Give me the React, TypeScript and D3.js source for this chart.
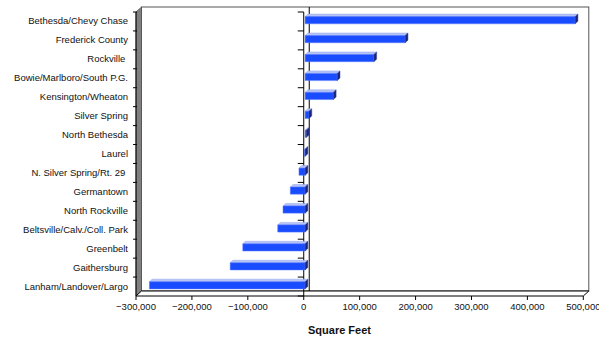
import React from "react";
import * as d3 from "d3";

const categories = [
  "Bethesda/Chevy Chase",
  "Frederick County",
  "Rockville ",
  "Bowie/Marlboro/South P.G.",
  "Kensington/Wheaton",
  "Silver Spring",
  "North Bethesda",
  "Laurel",
  "N. Silver Spring/Rt. 29 ",
  "Germantown",
  "North Rockville",
  "Beltsville/Calv./Coll. Park",
  "Greenbelt",
  "Gaithersburg",
  "Lanham/Landover/Largo",
];

const values = [
  483000, 179000, 123000, 57500, 50500, 7000, 2000, -1000, -11000, -26500,
  -39500, -49000, -111500, -134000, -278500,
];

const xTicks = [-300000, -200000, -100000, 0, 100000, 200000, 300000, 400000, 500000];

const W = 599;
const H = 339;

// 3D projection: offset of the back plane relative to the front plane
const DX = 5.5;
const DY = 5;
const D0 = 0.25;
const D1 = 0.75;

export default function App() {
  const x = d3.scaleLinear().domain([-300000, 500000]).range([136, 583.3]);
  const y = d3.scaleBand<string>().domain(categories).range([12, 296]).padding(0);
  const fmt = d3.format(",");

  const px = (v: number, d: number) => x(v) + d * DX;
  const py = (yy: number, d: number) => yy - d * DY;

  const left = x(-300000);
  const right = x(500000);
  const top = 12;
  const bottom = 296;
  const x0 = x(0);

  const barH = y.bandwidth() * 0.38;

  const poly = (pts: [number, number][]) => pts.map((p) => p.join(",")).join(" ");

  return (
    <svg width={W} height={H} style={{ position: "absolute", left: 0, top: 0, background: "#fff" }}
      fontFamily="'Liberation Sans', Arial, sans-serif">
      {/* back wall */}
      <rect x={left + DX} y={top - DY} width={right - left} height={bottom - top}
        fill="#fff" stroke="#555" strokeWidth={1} />
      {/* left wall */}
      <polygon
        points={poly([[left, bottom], [left, top], [left + DX, top - DY], [left + DX, bottom - DY]])}
        fill="#808080" stroke="#555" strokeWidth={0.8} />
      {/* floor */}
      <polygon
        points={poly([[left, bottom], [right, bottom], [right + DX, bottom - DY], [left + DX, bottom - DY]])}
        fill="#fff" stroke="#000" strokeWidth={1} />
      <line x1={left} x2={left} y1={top} y2={bottom} stroke="#000" strokeWidth={1} />
      {/* zero line on back wall */}
      <line x1={x0 + DX} x2={x0 + DX} y1={top - DY} y2={bottom - DY} stroke="#000" strokeWidth={1} />
      {/* category axis at zero */}
      <line x1={x0} x2={x0} y1={top} y2={bottom} stroke="#000" strokeWidth={1} />
      {categories.map((c, i) => {
        const yy = y(c)!;
        return (
          <g key={"t" + i}>
            <line x1={x0 - 6} x2={x0} y1={yy} y2={yy} stroke="#000" strokeWidth={1} />
            <line x1={left - 3} x2={left + 1} y1={yy} y2={yy} stroke="#000" strokeWidth={1} />
          </g>
        );
      })}
      <line x1={x0 - 6} x2={x0} y1={bottom} y2={bottom} stroke="#000" strokeWidth={1} />
      {/* bars */}
      {categories.map((c, i) => {
        const v = values[i];
        const lo = Math.min(0, v);
        const hi = Math.max(0, v);
        const cy = y(c)! + y.bandwidth() / 2;
        const yt = cy - barH / 2;
        const yb = cy + barH / 2;
        const front: [number, number][] = [
          [px(lo, D0), py(yt, D0)], [px(hi, D0), py(yt, D0)],
          [px(hi, D0), py(yb, D0)], [px(lo, D0), py(yb, D0)],
        ];
        const topFace: [number, number][] = [
          [px(lo, D0), py(yt, D0)], [px(hi, D0), py(yt, D0)],
          [px(hi, D1), py(yt, D1)], [px(lo, D1), py(yt, D1)],
        ];
        const endFace: [number, number][] = [
          [px(hi, D0), py(yt, D0)], [px(hi, D0), py(yb, D0)],
          [px(hi, D1), py(yb, D1)], [px(hi, D1), py(yt, D1)],
        ];
        return (
          <g key={"b" + i}>
            <polygon points={poly(topFace)} fill="#b7c3f5" stroke="#8ea2f0" strokeWidth={0.5} />
            <polygon points={poly(front)} fill="#1a4cff" stroke="#5a7cff" strokeWidth={0.5} />
            <polygon points={poly(endFace)} fill="#1a237a" stroke="#3a4aa0" strokeWidth={0.5} />
          </g>
        );
      })}
      {/* category labels */}
      {categories.map((c, i) => (
        <text key={"l" + i} x={128} y={y(c)! + y.bandwidth() / 2 + 0.5} textAnchor="end"
          dominantBaseline="middle" fontSize={9.5} fill="#111" style={{ whiteSpace: "pre" }}>
          {c}
        </text>
      ))}
      {/* value axis ticks and labels */}
      {xTicks.map((t) => (
        <g key={"x" + t}>
          <line x1={x(t)} x2={x(t)} y1={bottom} y2={bottom + 4} stroke="#000" strokeWidth={1} />
          <text x={x(t)} y={bottom + 14} textAnchor="middle" fontSize={9.5} fill="#111">
            {fmt(t)}
          </text>
        </g>
      ))}
      <text x={339.5} y={334} textAnchor="middle" fontSize={11} fontWeight="bold" fill="#111">
        Square Feet
      </text>
    </svg>
  );
}
